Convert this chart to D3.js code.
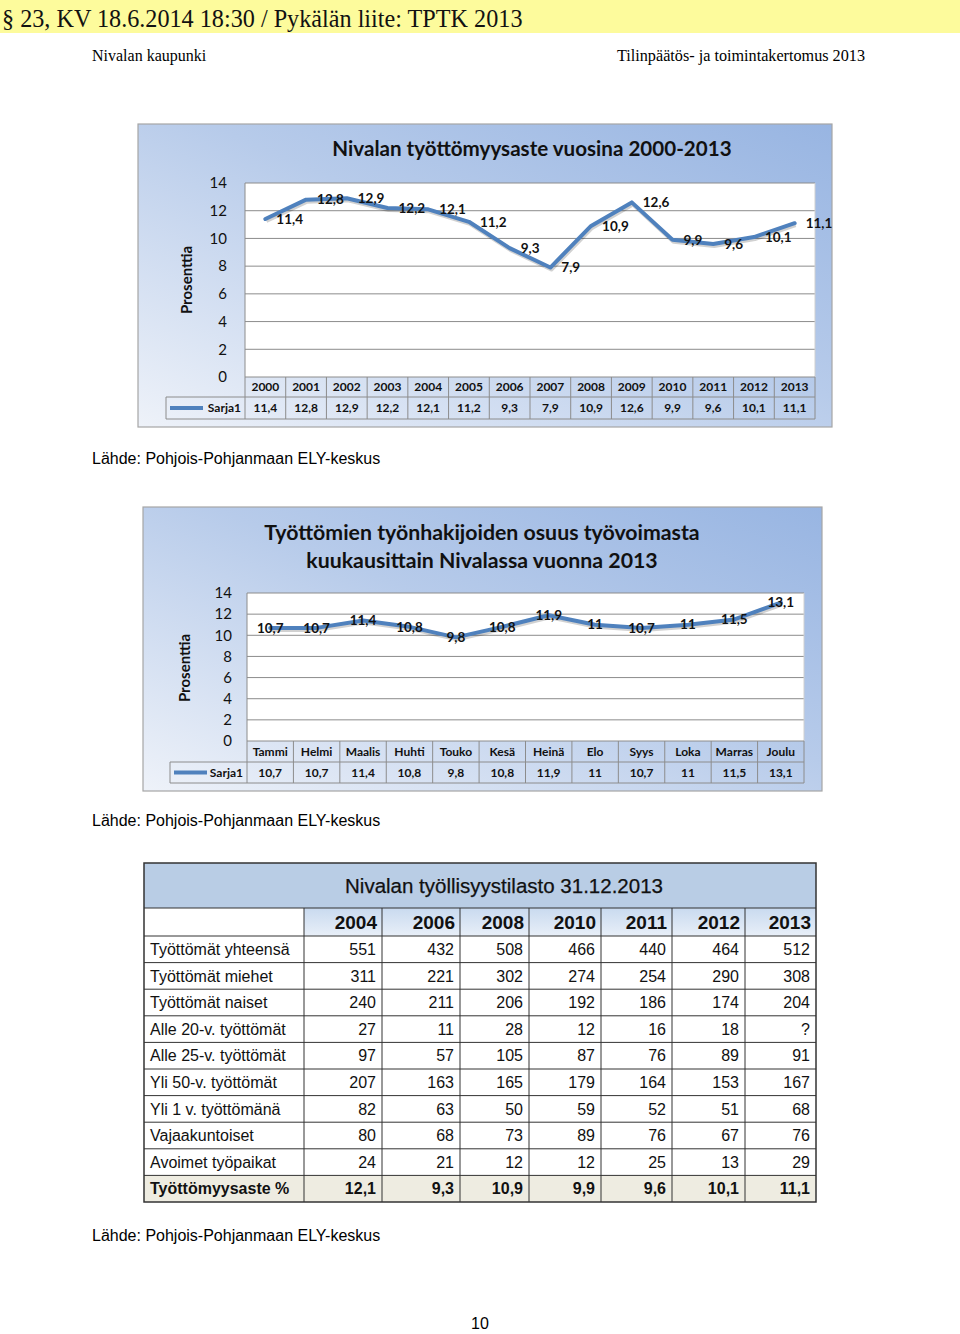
<!DOCTYPE html>
<html><head><meta charset="utf-8">
<script src="https://cdn.jsdelivr.net/npm/d3@7"></script>
<style>body{margin:0;background:#fff} svg{display:block}</style>
</head><body>
<svg id="page" width="960" height="1334"></svg>
<script>
// ---------- DATA ----------
const years = ["2000","2001","2002","2003","2004","2005","2006","2007","2008","2009","2010","2011","2012","2013"];
const yearRates = [11.4,12.8,12.9,12.2,12.1,11.2,9.3,7.9,10.9,12.6,9.9,9.6,10.1,11.1];
const months = ["Tammi","Helmi","Maalis","Huhti","Touko","Kesä","Heinä","Elo","Syys","Loka","Marras","Joulu"];
const monthRates = [10.7,10.7,11.4,10.8,9.8,10.8,11.9,11,10.7,11,11.5,13.1];
const yTicks = [0,2,4,6,8,10,12,14];
const seriesName = "Sarja1";
const tableYears = ["2004","2006","2008","2010","2011","2012","2013"];
const rowLabels = ["Työttömät yhteensä","Työttömät miehet","Työttömät naiset","Alle 20-v. työttömät","Alle 25-v. työttömät","Yli 50-v. työttömät","Yli 1 v. työttömänä","Vajaakuntoiset","Avoimet työpaikat","Työttömyysaste %"];
const rowValues = [
  [551,432,508,466,440,464,512],
  [311,221,302,274,254,290,308],
  [240,211,206,192,186,174,204],
  [27,11,28,12,16,18,null],
  [97,57,105,87,76,89,91],
  [207,163,165,179,164,153,167],
  [82,63,50,59,52,51,68],
  [80,68,73,89,76,67,76],
  [24,21,12,12,25,13,29],
  [12.1,9.3,10.9,9.9,9.6,10.1,11.1]
];
const sourceText = "Lähde: Pohjois-Pohjanmaan ELY-keskus";

// ---------- LAYOUT (positions only) ----------
const tableColLefts = [304,382,460,529,601,672,745];
const tableColRights = [382,460,529,601,672,745,816];

// ---------- HELPERS ----------
const fmt = v => v == null ? "?" : String(v).replace(".", ",");
const svg = d3.select("#page");
const defs = svg.append("defs");
const CAL = "Lato, 'Open Sans', sans-serif";
const ARIAL = "'Liberation Sans', Arial, sans-serif";
const SERIF = "'Liberation Serif', 'Times New Roman', serif";

const g1 = defs.append("linearGradient").attr("id","chartBg").attr("x1","1").attr("y1","0").attr("x2","0").attr("y2","1");
g1.append("stop").attr("offset","0").attr("stop-color","#98b5e2");
g1.append("stop").attr("offset","0.45").attr("stop-color","#b7cbea");
g1.append("stop").attr("offset","1").attr("stop-color","#eef2f9");
const g2 = defs.append("linearGradient").attr("id","hdrBg").attr("x1","0").attr("y1","0").attr("x2","0").attr("y2","1");
g2.append("stop").attr("offset","0").attr("stop-color","#c9daef");
g2.append("stop").attr("offset","1").attr("stop-color","#e8eff8");

// ---------- PAGE HEADER ----------
svg.append("rect").attr("x",0).attr("y",0).attr("width",960).attr("height",33).attr("fill","#fdfb9c");
svg.append("text").attr("x",2).attr("y",27).attr("font-family",SERIF).attr("font-size",24.2).attr("fill","#111")
  .text("§ 23, KV 18.6.2014 18:30 / Pykälän liite: TPTK 2013");
svg.append("text").attr("x",92).attr("y",61).attr("font-family",SERIF).attr("font-size",16).text("Nivalan kaupunki");
svg.append("text").attr("x",865).attr("y",61).attr("text-anchor","end").attr("font-family",SERIF).attr("font-size",16.2).text("Tilinpäätös- ja toimintakertomus 2013");

// ---------- LINE CHART ----------
function drawChart(c) {
  const g = svg.append("g");
  g.append("rect").attr("x",c.box[0]).attr("y",c.box[1]).attr("width",c.box[2]).attr("height",c.box[3])
    .attr("fill","url(#chartBg)").attr("stroke","#a6a6a6").attr("stroke-width",1.2);
  c.titleLines.forEach((t,i) => {
    g.append("text").attr("x",c.titleX).attr("y",c.titleY + i*c.titleGap).attr("text-anchor","middle")
      .attr("font-family",CAL).attr("font-weight","bold").attr("font-size",c.titleSize).attr("fill","#111").text(t);
  });
  const x = d3.scaleBand().domain(c.cats).range([c.plot.left, c.plot.right]);
  const y = d3.scaleLinear().domain([0,14]).range([c.plot.bottom, c.plot.top]);
  const cx = d => x(d) + x.bandwidth()/2;

  g.append("rect").attr("x",c.plot.left).attr("y",y(14)).attr("width",c.plot.right-c.plot.left).attr("height",y(0)-y(14)).attr("fill","#fff");
  g.selectAll(".grid").data(yTicks.filter(t=>t>0)).join("line")
    .attr("x1",c.plot.left).attr("x2",c.plot.right).attr("y1",d=>y(d)).attr("y2",d=>y(d))
    .attr("stroke","#8c8c8c").attr("stroke-width",1);
  g.append("line").attr("x1",c.plot.left).attr("x2",c.plot.left).attr("y1",y(14)).attr("y2",y(0)).attr("stroke","#8c8c8c");
  g.append("line").attr("x1",c.plot.right).attr("x2",c.plot.right).attr("y1",y(14)).attr("y2",y(0)).attr("stroke","#d0d0d0");

  const ax = g.append("g").attr("transform",`translate(${c.plot.left},0)`)
    .call(d3.axisLeft(y).tickValues(yTicks).tickSize(0).tickPadding(c.tickPad).tickFormat(d=>d));
  ax.select(".domain").remove();
  ax.selectAll("text").attr("font-family",CAL).attr("font-size",c.tickSize).attr("fill","#111");

  g.append("text").attr("transform",`translate(${c.ylab[0]},${c.ylab[1]}) rotate(-90)`).attr("text-anchor","middle")
    .attr("font-family",CAL).attr("font-weight","bold").attr("font-size",15).attr("fill","#111").text("Prosenttia");

  const r0 = c.plot.bottom, r1 = c.rows[0], r2 = c.rows[1];
  const tb = g.append("g");
  const stroke = "#8c8c8c";
  tb.append("line").attr("x1",c.plot.left).attr("x2",c.plot.right).attr("y1",r0).attr("y2",r0).attr("stroke",stroke);
  tb.append("line").attr("x1",c.legendLeft).attr("x2",c.plot.right).attr("y1",r1).attr("y2",r1).attr("stroke",stroke);
  tb.append("line").attr("x1",c.legendLeft).attr("x2",c.plot.right).attr("y1",r2).attr("y2",r2).attr("stroke",stroke);
  tb.append("line").attr("x1",c.legendLeft).attr("x2",c.legendLeft).attr("y1",r1).attr("y2",r2).attr("stroke",stroke);
  tb.selectAll(".vl").data(c.cats).join("line")
    .attr("x1",d=>x(d)).attr("x2",d=>x(d)).attr("y1",r0).attr("y2",r2).attr("stroke",stroke);
  tb.append("line").attr("x1",c.plot.right).attr("x2",c.plot.right).attr("y1",r0).attr("y2",r2).attr("stroke",stroke);
  tb.selectAll(".ct").data(c.cats).join("text")
    .attr("x",cx).attr("y",(r0+r1)/2).attr("dy","0.35em").attr("text-anchor","middle")
    .attr("font-family",CAL).attr("font-weight","bold").attr("font-size",12).attr("fill","#111").text(d=>d);
  tb.selectAll(".vt").data(c.vals).join("text")
    .attr("x",(d,i)=>cx(c.cats[i])).attr("y",(r1+r2)/2).attr("dy","0.35em").attr("text-anchor","middle")
    .attr("font-family",CAL).attr("font-weight","bold").attr("font-size",12).attr("fill","#111").text(fmt);
  tb.append("line").attr("x1",c.legendLeft+4).attr("x2",c.legendLeft+37).attr("y1",(r1+r2)/2).attr("y2",(r1+r2)/2)
    .attr("stroke","#4f81bd").attr("stroke-width",4);
  tb.append("text").attr("x",c.plot.left-4).attr("y",(r1+r2)/2).attr("dy","0.35em").attr("text-anchor","end")
    .attr("font-family",CAL).attr("font-weight","bold").attr("font-size",12).attr("fill","#111").text(seriesName);

  const line = d3.line().x((d,i)=>cx(c.cats[i])).y(d=>y(d));
  g.append("path").datum(c.vals).attr("d",line).attr("fill","none").attr("stroke","rgba(0,0,0,0.18)")
    .attr("stroke-width",4).attr("transform","translate(1,2)").attr("stroke-linejoin","round");
  g.append("path").datum(c.vals).attr("d",line).attr("fill","none").attr("stroke","#4f81bd")
    .attr("stroke-width",4).attr("stroke-linejoin","round").attr("stroke-linecap","round");

  g.selectAll(".dl").data(c.vals).join("text")
    .attr("x",(d,i)=>cx(c.cats[i]) + (c.labelPos==="right" ? 11 : 0))
    .attr("y",d=>y(d)).attr("dy","0.35em")
    .attr("text-anchor", c.labelPos==="right" ? "start" : "middle")
    .attr("font-family",CAL).attr("font-weight","bold").attr("font-size",13.5).attr("fill","#111").text(fmt);
}

drawChart({
  box:[138,124,694,303],
  titleLines:["Nivalan työttömyysaste vuosina 2000-2013"], titleX:532, titleY:156, titleGap:0, titleSize:20.6,
  cats:years, vals:yearRates,
  plot:{left:245,right:815,top:183,bottom:377},
  rows:[397,419], legendLeft:166, tickPad:18, tickSize:15,
  ylab:[192,280], labelPos:"right"
});
svg.append("text").attr("x",92).attr("y",464).attr("font-family",ARIAL).attr("font-size",16).text(sourceText);

drawChart({
  box:[143,507,679,284],
  titleLines:["Työttömien työnhakijoiden osuus työvoimasta","kuukausittain Nivalassa vuonna 2013"], titleX:482, titleY:540, titleGap:28, titleSize:21.3,
  cats:months, vals:monthRates,
  plot:{left:247,right:804,top:593,bottom:741},
  rows:[762,783], legendLeft:170, tickPad:15, tickSize:15,
  ylab:[190,668], labelPos:"center"
});
svg.append("text").attr("x",92).attr("y",826).attr("font-family",ARIAL).attr("font-size",16).text(sourceText);

// ---------- TABLE ----------
const T = {left:144, right:816, labelRight:304, top:863, titleBottom:908, headBottom:936, bottom:1202};
const txL = d3.scaleOrdinal().domain(tableYears).range(tableColLefts);
const txR = d3.scaleOrdinal().domain(tableYears).range(tableColRights);
const ty = d3.scaleBand().domain(rowLabels).range([T.headBottom, T.bottom]);
const tg = svg.append("g");
tg.append("rect").attr("x",T.left).attr("y",T.top).attr("width",T.right-T.left).attr("height",T.titleBottom-T.top).attr("fill","#b9cde5");
tg.selectAll(".hc").data(tableYears).join("rect")
  .attr("x",d=>txL(d)).attr("y",T.titleBottom).attr("width",d=>txR(d)-txL(d)).attr("height",T.headBottom-T.titleBottom).attr("fill","url(#hdrBg)");
const lastLabel = rowLabels[rowLabels.length-1];
tg.append("rect").attr("x",T.left).attr("y",ty(lastLabel)).attr("width",T.right-T.left).attr("height",ty.bandwidth()).attr("fill","#eeece1");
tg.append("text").attr("x",504).attr("y",(T.top+T.titleBottom)/2).attr("dy","0.36em").attr("text-anchor","middle")
  .attr("font-family",ARIAL).attr("font-size",20.5).attr("stroke","#111").attr("stroke-width",0.25).attr("fill","#111").text("Nivalan työllisyystilasto 31.12.2013");
tg.selectAll(".hy").data(tableYears).join("text")
  .attr("x",d=>txR(d)-5).attr("y",(T.titleBottom+T.headBottom)/2).attr("dy","0.36em").attr("text-anchor","end")
  .attr("font-family",ARIAL).attr("font-weight","bold").attr("font-size",19).attr("fill","#111").text(d=>d);
rowLabels.forEach((lab,ri) => {
  const bold = ri === rowLabels.length-1 ? "bold" : "normal";
  const yc = ty(lab) + ty.bandwidth()/2;
  tg.append("text").attr("x",T.left+6).attr("y",yc).attr("dy","0.36em").attr("font-family",ARIAL).attr("font-weight",bold)
    .attr("font-size",16).attr("fill","#111").text(lab);
  tg.selectAll(null).data(rowValues[ri]).join("text")
    .attr("x",(d,i)=>txR(tableYears[i])-6).attr("y",yc).attr("dy","0.36em").attr("text-anchor","end")
    .attr("font-family",ARIAL).attr("font-weight",bold).attr("font-size",16).attr("fill","#111").text(fmt);
});
const hLines = [T.titleBottom, T.headBottom].concat(rowLabels.slice(1).map(l=>ty(l)));
tg.selectAll(".hl").data(hLines).join("line")
  .attr("x1",T.left).attr("x2",T.right).attr("y1",d=>d).attr("y2",d=>d).attr("stroke","#333").attr("stroke-width",1);
tg.selectAll(".vl").data(tableYears).join("line")
  .attr("x1",d=>txL(d)).attr("x2",d=>txL(d)).attr("y1",T.titleBottom).attr("y2",T.bottom).attr("stroke","#333").attr("stroke-width",1);
tg.append("rect").attr("x",T.left).attr("y",T.top).attr("width",T.right-T.left).attr("height",T.bottom-T.top)
  .attr("fill","none").attr("stroke","#333").attr("stroke-width",1.5);

svg.append("text").attr("x",92).attr("y",1241).attr("font-family",ARIAL).attr("font-size",16).text(sourceText);
svg.append("text").attr("x",480).attr("y",1329).attr("text-anchor","middle").attr("font-family",ARIAL).attr("font-size",16).text("10");
</script>
</body></html>
